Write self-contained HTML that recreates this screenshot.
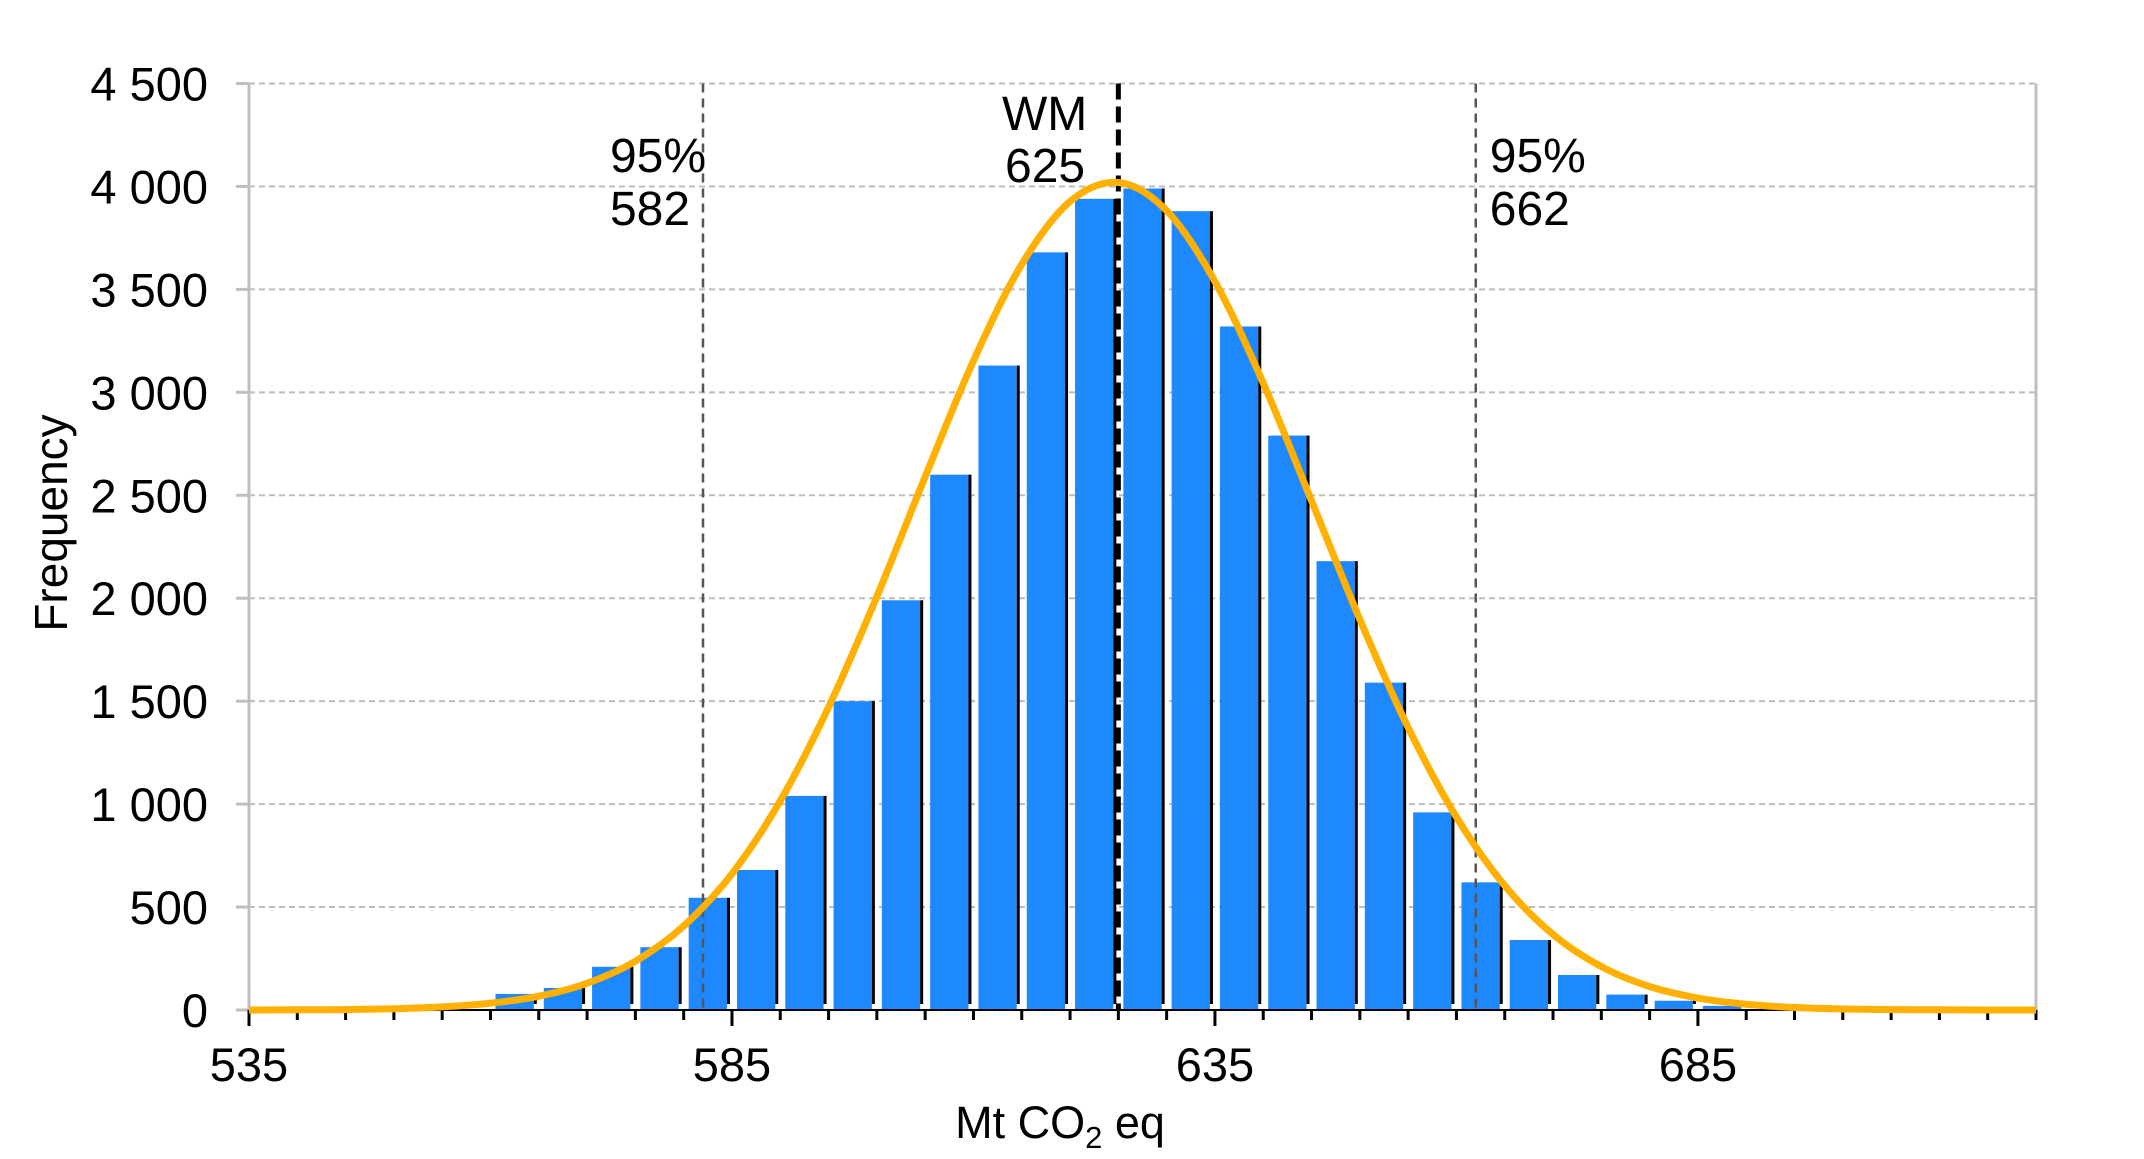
<!DOCTYPE html>
<html><head><meta charset="utf-8"><style>
html,body{margin:0;padding:0;background:#fff;}
svg text{font-family:"Liberation Sans",Arial,sans-serif;fill:#000;}
</style></head><body>
<svg id="chart" width="2144" height="1154" viewBox="0 0 2144 1154" xmlns="http://www.w3.org/2000/svg">
<g id="grid"></g>
<g id="bars"></g>
<g id="refs"></g>
<g id="axes"></g>
<g id="curve"></g>
<g id="labels"></g>
</svg>
<script>
const binStarts = [560,565,570,575,580,585,590,595,600,605,610,615,620,625,630,635,640,645,650,655,660,665,670,675,680,685];
const binCounts = [78,107,210,305,545,680,1040,1500,1990,2600,3130,3680,3940,3990,3880,3320,2790,2180,1590,960,620,340,170,75,45,20];
const curveX = [535,540,545,550,555,560,565,570,575,580,585,590,595,600,605,610,615,620,625,630,635,640,645,650,655,660,665,670,675,680,685,690,695,700,705,710,715,720];
const curveY = [0,1,2,6,15,33,67,130,237,408,662,1016,1471,2008,2590,3153,3622,3927,4019,3882,3538,3045,2473,1897,1372,937,604,367,211,114,58,28,12,5,2,1,0,0];
const yTicks = [0,500,1000,1500,2000,2500,3000,3500,4000,4500];
const yTickLabels = ["0","500","1 000","1 500","2 000","2 500","3 000","3 500","4 000","4 500"];
const xTicks = [535,585,635,685];
const refValues = [582,662];
const refLabels = ["582","662"];
const wmValue = 625;
const binWidth = 5;

const X0=249, X1=2036, XMIN=535, XMAX=720, Y0=1010, Y1=83.5, YMAX=4500;
const sx = v => X0 + (v-XMIN)*(X1-X0)/(XMAX-XMIN);
const sy = v => Y0 - v*(Y0-Y1)/YMAX;
const NS="http://www.w3.org/2000/svg";
function mk(parent, tag, attrs, text){
  const e=document.createElementNS(NS,tag);
  for(const k in attrs) e.setAttribute(k,attrs[k]);
  if(text!==undefined) e.textContent=text;
  parent.appendChild(e); return e;
}
const G=id=>document.getElementById(id);

yTicks.forEach((t,i)=>{
  if(t>0){
    const l=mk(G('grid'),'line',{x1:X0,x2:X1,y1:sy(t),y2:sy(t),stroke:'#bdbdbd','stroke-width':2,'stroke-dasharray':'6,4'});
    
    
  }
  const tk=mk(G('axes'),'line',{x1:236,x2:X0,y1:sy(t),y2:sy(t),stroke:'#bfbfbf','stroke-width':3});
  
  
  const tx=mk(G('labels'),'text',{x:208,y:sy(t)+17,'text-anchor':'end','font-size':47},yTickLabels[i]);
  
  
});

binStarts.forEach((b,i)=>{
  const xl=sx(b)+5, xr=sx(b+binWidth)-2, yt=sy(binCounts[i]);
  const r=mk(G('bars'),'rect',{x:xl,y:yt,width:xr-xl-3,height:Y0-yt,fill:'#1E88FF'});
  
  
  const s=mk(G('bars'),'rect',{x:xr-3,y:yt,width:3,height:Y0-yt-6,fill:'#000'});
  
  
});

refValues.forEach((v,i)=>{
  const l=mk(G('refs'),'line',{x1:sx(v),x2:sx(v),y1:Y1,y2:Y0,stroke:'#555','stroke-width':2.5,'stroke-dasharray':'9,6'});
  
  
  const lx = i===0 ? sx(v)-93 : sx(v)+14;
  const t1=mk(G('labels'),'text',{x:lx,y:172,'font-size':48},'95%');
  
  
  const t2=mk(G('labels'),'text',{x:lx,y:225,'font-size':48},refLabels[i]);
  
  
});
const wm=mk(G('refs'),'line',{x1:sx(wmValue),x2:sx(wmValue),y1:Y1,y2:Y0,stroke:'#000','stroke-width':5,'stroke-dasharray':'16,7'});


const w1=mk(G('labels'),'text',{x:1002,y:130,'font-size':48},'WM');


const w2=mk(G('labels'),'text',{x:1005,y:182,'font-size':48},String(wmValue));



const ya=mk(G('axes'),'line',{x1:X0,x2:X0,y1:Y1,y2:Y0,stroke:'#bfbfbf','stroke-width':3});


const rb=mk(G('axes'),'line',{x1:X1,x2:X1,y1:Y1,y2:Y0,stroke:'#bfbfbf','stroke-width':3});


const xa=mk(G('axes'),'line',{x1:X0,x2:X1,y1:Y0,y2:Y0,stroke:'#000','stroke-width':2});


for(let v=XMIN; v<=XMAX; v+=binWidth){
  const major = xTicks.includes(v);
  const t=mk(G('axes'),'line',{x1:sx(v),x2:sx(v),y1:Y0,y2:major?1026:1020,stroke:'#000','stroke-width':3});
  
  
}
xTicks.forEach(v=>{
  const t=mk(G('labels'),'text',{x:sx(v),y:1081,'text-anchor':'middle','font-size':47},String(v));
  
  
});

const pts=curveX.map((x,i)=>[sx(x),sy(curveY[i])]);
let d='M'+pts[0][0]+','+pts[0][1];
for(let i=0;i<pts.length-1;i++){
  const p0=pts[Math.max(0,i-1)],p1=pts[i],p2=pts[i+1],p3=pts[Math.min(pts.length-1,i+2)];
  const c1=[p1[0]+(p2[0]-p0[0])/6,p1[1]+(p2[1]-p0[1])/6];
  const c2=[p2[0]-(p3[0]-p1[0])/6,p2[1]-(p3[1]-p1[1])/6];
  d+=' C'+c1+' '+c2+' '+p2;
}
const cp=mk(G('curve'),'path',{d:d,fill:'none',stroke:'#FFB000','stroke-width':7,'stroke-linejoin':'round'});



const xt=mk(G('labels'),'text',{x:1060,y:1138,'text-anchor':'middle','font-size':45});


xt.innerHTML='Mt CO<tspan font-size="31" dy="10">2</tspan><tspan dy="-10"> eq</tspan>';
const yt=mk(G('labels'),'text',{x:0,y:0,'text-anchor':'middle','font-size':46,transform:'translate(67,523) rotate(-90)'},'Frequency');


</script>
</body></html>
